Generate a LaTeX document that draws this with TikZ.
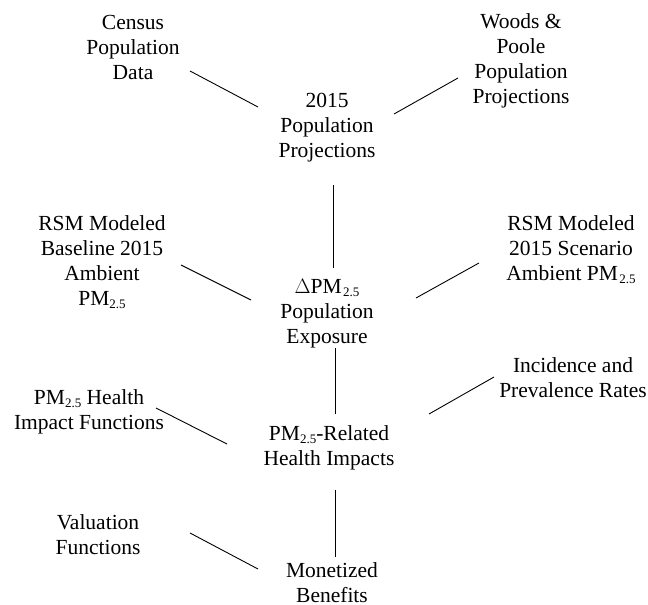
\documentclass[tikz,border=0pt]{standalone}
\usepackage{fontspec}
\setmainfont{Liberation Serif}
\newcommand{\pmsub}[1]{\raisebox{-3pt}{\fontsize{13}{13}\selectfont #1}}
\begin{document}
\begin{tikzpicture}[x=1pt,y=-1pt,
  lbl/.style={align=center,inner sep=0pt,font=\fontsize{21.5}{25}\selectfont},
  conn/.style={line width=0.9pt}]
\useasboundingbox (0,0) rectangle (648,605);
\node[lbl] (census) at (133,47.5) {Census\\Population\\Data};
\node[lbl] (woods) at (521,60.5) {Woods \&\\Poole\\Population\\Projections};
\node[lbl] (pop) at (327,128) {2015\\Population\\Projections};
\node[lbl] (base) at (102,262.5) {RSM Modeled\\Baseline 2015\\Ambient\\PM\pmsub{2.5}};
\node[lbl] (delta) at (327,314) {$\Delta$PM\kern1.5pt\pmsub{2.5}\\Population\\Exposure};
\node[lbl] (scen) at (571,250) {RSM Modeled\\2015 Scenario\\Ambient PM\kern1.5pt\pmsub{2.5}};
\node[lbl] (incid) at (573,377.5) {Incidence and\\Prevalence Rates};
\node[lbl] (hif) at (89,411.5) {PM\pmsub{2.5} Health\\Impact Functions};
\node[lbl] (rel) at (329,447.5) {PM\pmsub{2.5}-Related\\Health Impacts};
\node[lbl] (val) at (98,534.5) {Valuation\\Functions};
\node[lbl] (mon) at (332,582.5) {Monetized\\Benefits};
\draw[conn] ([shift={(57,23.5)}]census.center) -- ([shift={(-69,-21)}]pop.center);
\draw[conn] ([shift={(-63,17.5)}]woods.center) -- ([shift={(67,-14)}]pop.center);
\draw[conn] ([shift={(6,57)}]pop.center) -- ([shift={(6,-46)}]delta.center);
\draw[conn] ([shift={(79,2.5)}]base.center) -- ([shift={(-76,-14)}]delta.center);
\draw[conn] ([shift={(-92,13)}]scen.center) -- ([shift={(89,-16)}]delta.center);
\draw[conn] ([shift={(8,34)}]delta.center) -- ([shift={(6,-33.5)}]rel.center);
\draw[conn] ([shift={(-79,-0.5)}]incid.center) -- ([shift={(100,-33.5)}]rel.center);
\draw[conn] ([shift={(67,-3.5)}]hif.center) -- ([shift={(-102,-3.5)}]rel.center);
\draw[conn] ([shift={(6,42.5)}]rel.center) -- ([shift={(3,-25.5)}]mon.center);
\draw[conn] ([shift={(92,-1.5)}]val.center) -- ([shift={(-74,-13.5)}]mon.center);
\end{tikzpicture}
\end{document}
